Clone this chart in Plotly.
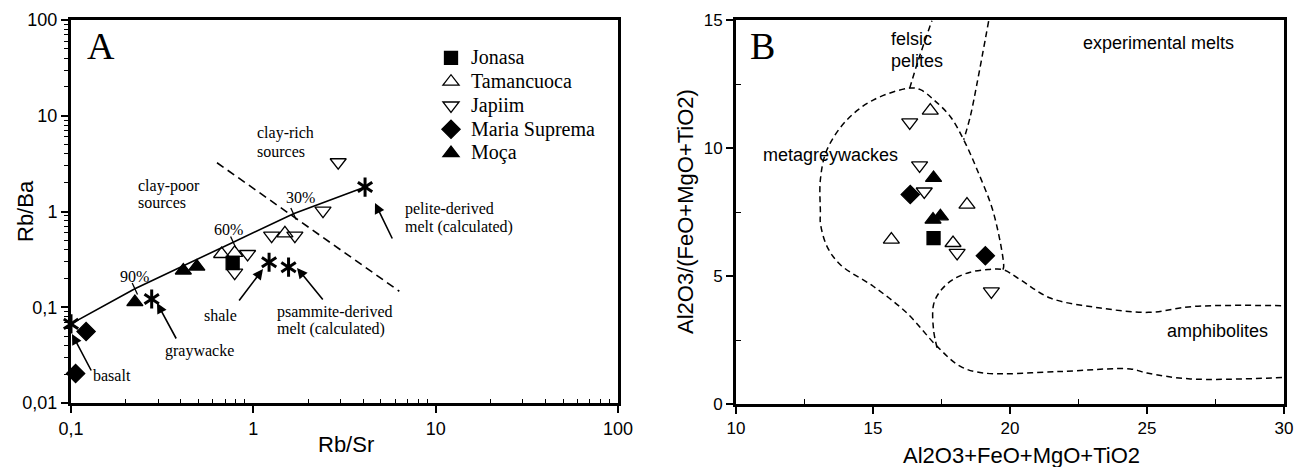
import plotly.graph_objects as go

# ---------------- Panel A data: Rb/Sr (x) vs Rb/Ba (y) ----------------
jonasa_a_x = [0.77]
jonasa_a_y = [0.29]
tamancuoca_a_x = [0.67, 0.79, 1.49]
tamancuoca_a_y = [0.36, 0.37, 0.59]
japiim_a_x = [0.93, 0.79, 1.26, 1.69, 2.41, 2.92]
japiim_a_y = [0.36, 0.23, 0.56, 0.56, 1.02, 3.27]
maria_a_x = [0.121, 0.106]
maria_a_y = [0.0557, 0.0203]
moca_a_x = [0.224, 0.413, 0.49]
moca_a_y = [0.113, 0.242, 0.266]

ref_names = ["basalt", "graywacke", "shale", "psammite-derived melt", "pelite-derived melt"]
ref_x = [0.1, 0.277, 1.22, 1.56, 4.1]
ref_y = [0.067, 0.122, 0.295, 0.262, 1.8]

mix_x = [0.1, 0.224, 0.776, 1.66, 4.1]
mix_y = [0.067, 0.156, 0.478, 0.946, 1.8]
mix_labels = ["90%", "60%", "30%"]
mix_tick_x = [0.224, 0.776, 1.66]
mix_tick_y = [0.156, 0.478, 0.946]

clay_divide_x = [0.632, 6.32]
clay_divide_y = [3.23, 0.147]

a_xticks = [0.1, 1, 10, 100]
a_xticktext = ["0,1", "1", "10", "100"]
a_yticks = [0.01, 0.1, 1, 10, 100]
a_yticktext = ["0,01", "0,1", "1", "10", "100"]

# ---------------- Panel B data ----------------
jonasa_b_x = [17.21]
jonasa_b_y = [6.48]
tamancuoca_b_x = [17.09, 18.43, 15.67, 17.92]
tamancuoca_b_y = [11.46, 7.79, 6.42, 6.29]
japiim_b_x = [16.34, 16.70, 16.87, 18.07, 19.32]
japiim_b_y = [11.0, 9.32, 8.30, 5.90, 4.40]
maria_b_x = [16.36, 19.10]
maria_b_y = [8.18, 5.79]
moca_b_x = [17.21, 17.46, 17.19]
moca_b_y = [8.83, 7.33, 7.20]

# field boundaries
meta_x = [19.74, 19.77, 19.40, 18.80, 18.31, 17.82, 17.21, 16.73, 16.34, 15.02, 14.05, 13.32,
          13.08, 13.08, 13.08, 13.32, 13.81, 15.02, 16.24, 17.34, 18.19, 19.04, 21.84, 24.39,
          25.0, 26.58, 30.0]
meta_y = [5.25, 5.38, 7.46, 9.15, 10.32, 11.23, 11.89, 12.28, 12.34, 11.88, 11.1, 9.93,
          8.77, 7.46, 7.07, 6.16, 5.44, 4.59, 3.55, 2.25, 1.47, 1.21, 1.27, 1.37,
          1.21, 0.98, 1.04]
exp_x = [19.22, 18.80, 18.55, 18.31]
exp_y = [14.96, 12.54, 11.23, 10.32]
felsic_x = [16.34, 16.66, 17.15]
felsic_y = [12.34, 13.45, 14.97]
amph_x = [17.34, 17.21, 17.21, 17.45, 17.9, 18.55, 19.2, 19.74, 20.37, 21.47, 23.30, 25.06, 26.70, 30.0]
amph_y = [2.19, 2.90, 3.88, 4.40, 4.85, 5.15, 5.25, 5.25, 4.86, 4.14, 3.75, 3.58, 3.81, 3.84]

W, H = 1295, 467
SERIF = "Liberation Serif"
SANS = "Liberation Sans"


def px(x, y):
    return x / W, 1 - y / H


fig = go.Figure()

groups = [
    ("Jonasa", "square", "black", jonasa_a_x, jonasa_a_y, jonasa_b_x, jonasa_b_y),
    ("Tamancuoca", "triangle-up-open", "black", tamancuoca_a_x, tamancuoca_a_y, tamancuoca_b_x, tamancuoca_b_y),
    ("Japiim", "triangle-down-open", "black", japiim_a_x, japiim_a_y, japiim_b_x, japiim_b_y),
    ("Maria Suprema", "diamond", "black", maria_a_x, maria_a_y, maria_b_x, maria_b_y),
    ("Moça", "triangle-up", "black", moca_a_x, moca_a_y, moca_b_x, moca_b_y),
]

# lines for panel A
fig.add_trace(go.Scatter(x=mix_x, y=mix_y, mode="lines", line=dict(color="black", width=1.6),
                         showlegend=False, xaxis="x", yaxis="y"))
fig.add_trace(go.Scatter(x=clay_divide_x, y=clay_divide_y, mode="lines",
                         line=dict(color="black", width=1.6, dash="8px,5px"),
                         showlegend=False, xaxis="x", yaxis="y"))
fig.add_trace(go.Scatter(x=mix_tick_x, y=mix_tick_y, mode="markers",
                         marker=dict(symbol="line-ns", size=9, angle=-25,
                                     line=dict(color="black", width=1.3)),
                         showlegend=False, xaxis="x", yaxis="y"))

# panel B boundaries
for bx, by in [(meta_x, meta_y), (exp_x, exp_y), (felsic_x, felsic_y), (amph_x, amph_y)]:
    fig.add_trace(go.Scatter(x=bx, y=by, mode="lines", line=dict(color="black", width=1.5, dash="6px,4px"),
                             line_shape="spline", showlegend=False, xaxis="x2", yaxis="y2",
                             cliponaxis=False))

for name, sym, col, ax_, ay_, bx_, by_ in groups:
    size = 14 if "triangle" in sym else 13
    if sym == "diamond":
        size = 14
    mk = dict(symbol=sym, size=size, color=col, line=dict(color="black", width=1.3))
    fig.add_trace(go.Scatter(x=ax_, y=ay_, mode="markers", marker=mk,
                             name=f'<span style="font-size:20px">{name}</span>',
                             xaxis="x", yaxis="y", cliponaxis=False))
    fig.add_trace(go.Scatter(x=bx_, y=by_, mode="markers", marker=mk, showlegend=False,
                             xaxis="x2", yaxis="y2", cliponaxis=False))

# reference compositions (asterisks)
for sym in ["y-up", "y-down"]:
    fig.add_trace(go.Scatter(x=ref_x, y=ref_y, mode="markers", text=ref_names, showlegend=False,
                             marker=dict(symbol=sym, size=12, color="black",
                                         line=dict(color="black", width=3)),
                             xaxis="x", yaxis="y", cliponaxis=False))

ann = []


def txt(t, x, y, size=16, font=SERIF, xanchor="center", angle=0):
    X, Y = px(x, y)
    ann.append(dict(text=t, x=X, y=Y, xref="paper", yref="paper", showarrow=False,
                    xanchor=xanchor, yanchor="middle", textangle=angle,
                    font=dict(family=font, size=size, color="black")))


def arrow(hx, hy, tx, ty):
    X, Y = px(hx, hy)
    ann.append(dict(text="", x=X, y=Y, xref="paper", yref="paper", showarrow=True,
                    ax=tx - hx, ay=ty - hy, axref="pixel", ayref="pixel",
                    arrowhead=2, arrowsize=1.3, arrowwidth=1.6, arrowcolor="black"))


# Panel A texts
txt("A", 100.5, 46, size=38)
txt("clay-rich", 255, 133, xanchor="left")
txt("sources", 255, 151, xanchor="left")
txt("clay-poor", 136, 186, xanchor="left")
txt("sources", 136, 203, xanchor="left")
txt(mix_labels[2], 300, 197)
txt(mix_labels[1], 228, 230)
txt(mix_labels[0], 134, 276)
txt("graywacke", 199, 351)
txt("basalt", 112, 375)
txt("shale", 220, 315)
txt("psammite-derived", 275, 312, xanchor="left")
txt("melt (calculated)", 275, 329, xanchor="left")
txt("pelite-derived", 403, 209, xanchor="left")
txt("melt (calculated)", 403, 227, xanchor="left")
arrow(72, 334, 92, 372)
arrow(157, 303, 177, 340)
arrow(263, 269, 238, 302)
arrow(297, 268, 324, 301)
arrow(375, 203, 393, 240)

# Panel B texts
txt("B", 762, 46, size=38)
txt("felsic", 889, 39, size=18, font=SANS, xanchor="left")
txt("pelites", 889, 61, size=18, font=SANS, xanchor="left")
txt("experimental melts", 1158, 43, size=18, font=SANS)
txt("metagreywackes", 830, 155, size=18, font=SANS)
txt("amphibolites", 1217, 331, size=18, font=SANS)

# axis titles
txt("Rb/Ba", 25, 211, size=22, font=SANS, angle=-90)
txt("Rb/Sr", 346, 444, size=22, font=SANS)
txt("Al2O3/(FeO+MgO+TiO2)", 685, 212, size=22, font=SANS, angle=-90)
txt("Al2O3+FeO+MgO+TiO2", 1021, 455, size=22, font=SANS)

axis_common = dict(showline=True, linecolor="black", linewidth=3, mirror=True,
                   showgrid=False, zeroline=False, ticks="outside", ticklen=7, tickwidth=1.5,
                   tickcolor="black", tickfont=dict(family=SANS, size=18, color="black"),
                   automargin=False)

minor_a_x = [v * m for m in [0.1, 1, 10] for v in range(2, 10)]
minor_a_y = [v * m for m in [0.01, 0.1, 1, 10] for v in range(2, 10)]

fig.update_layout(
    width=W, height=H,
    margin=dict(l=0, r=0, t=0, b=0, pad=0, autoexpand=False),
    paper_bgcolor="white", plot_bgcolor="white",
    xaxis=dict(domain=[71 / W, 618 / W], type="log", range=[-1, 2],
               tickmode="array", tickvals=a_xticks, ticktext=a_xticktext,
               minor=dict(tickmode="array", tickvals=minor_a_x, ticks="inside", ticklen=4,
                          tickwidth=1.2, tickcolor="black"),
               anchor="y", **axis_common),
    yaxis=dict(domain=[1 - 403 / H, 1 - 20 / H], type="log", range=[-2, 2],
               tickmode="array", tickvals=a_yticks, ticktext=a_yticktext,
               minor=dict(tickmode="array", tickvals=minor_a_y, ticks="outside", ticklen=4,
                          tickwidth=1.2, tickcolor="black"),
               anchor="x", **axis_common),
    xaxis2=dict(domain=[736 / W, 1284 / W], range=[10, 30], tickmode="array",
                tickvals=[10, 15, 20, 25, 30],
                minor=dict(tickmode="array", tickvals=[12.5, 17.5, 22.5, 27.5], ticks="inside",
                           ticklen=5, tickwidth=1.2, tickcolor="black"),
                anchor="y2", **{**axis_common, "tickfont": dict(family=SANS, size=17, color="black")}),
    yaxis2=dict(domain=[1 - 404 / H, 1 - 20 / H], range=[0, 15], tickmode="array",
                tickvals=[0, 5, 10, 15],
                minor=dict(tickmode="array", tickvals=[2.5, 7.5, 12.5], ticks="inside",
                           ticklen=5, tickwidth=1.2, tickcolor="black"),
                anchor="x2", **{**axis_common, "tickfont": dict(family=SANS, size=17, color="black")}),
    legend=dict(x=431 / W, y=1 - 41 / H, xanchor="left", yanchor="top",
                font=dict(family=SERIF, size=16, color="black"),
                bgcolor="rgba(0,0,0,0)", borderwidth=0),
    annotations=ann,
    showlegend=True,
)

fig.write_html("out.html")
